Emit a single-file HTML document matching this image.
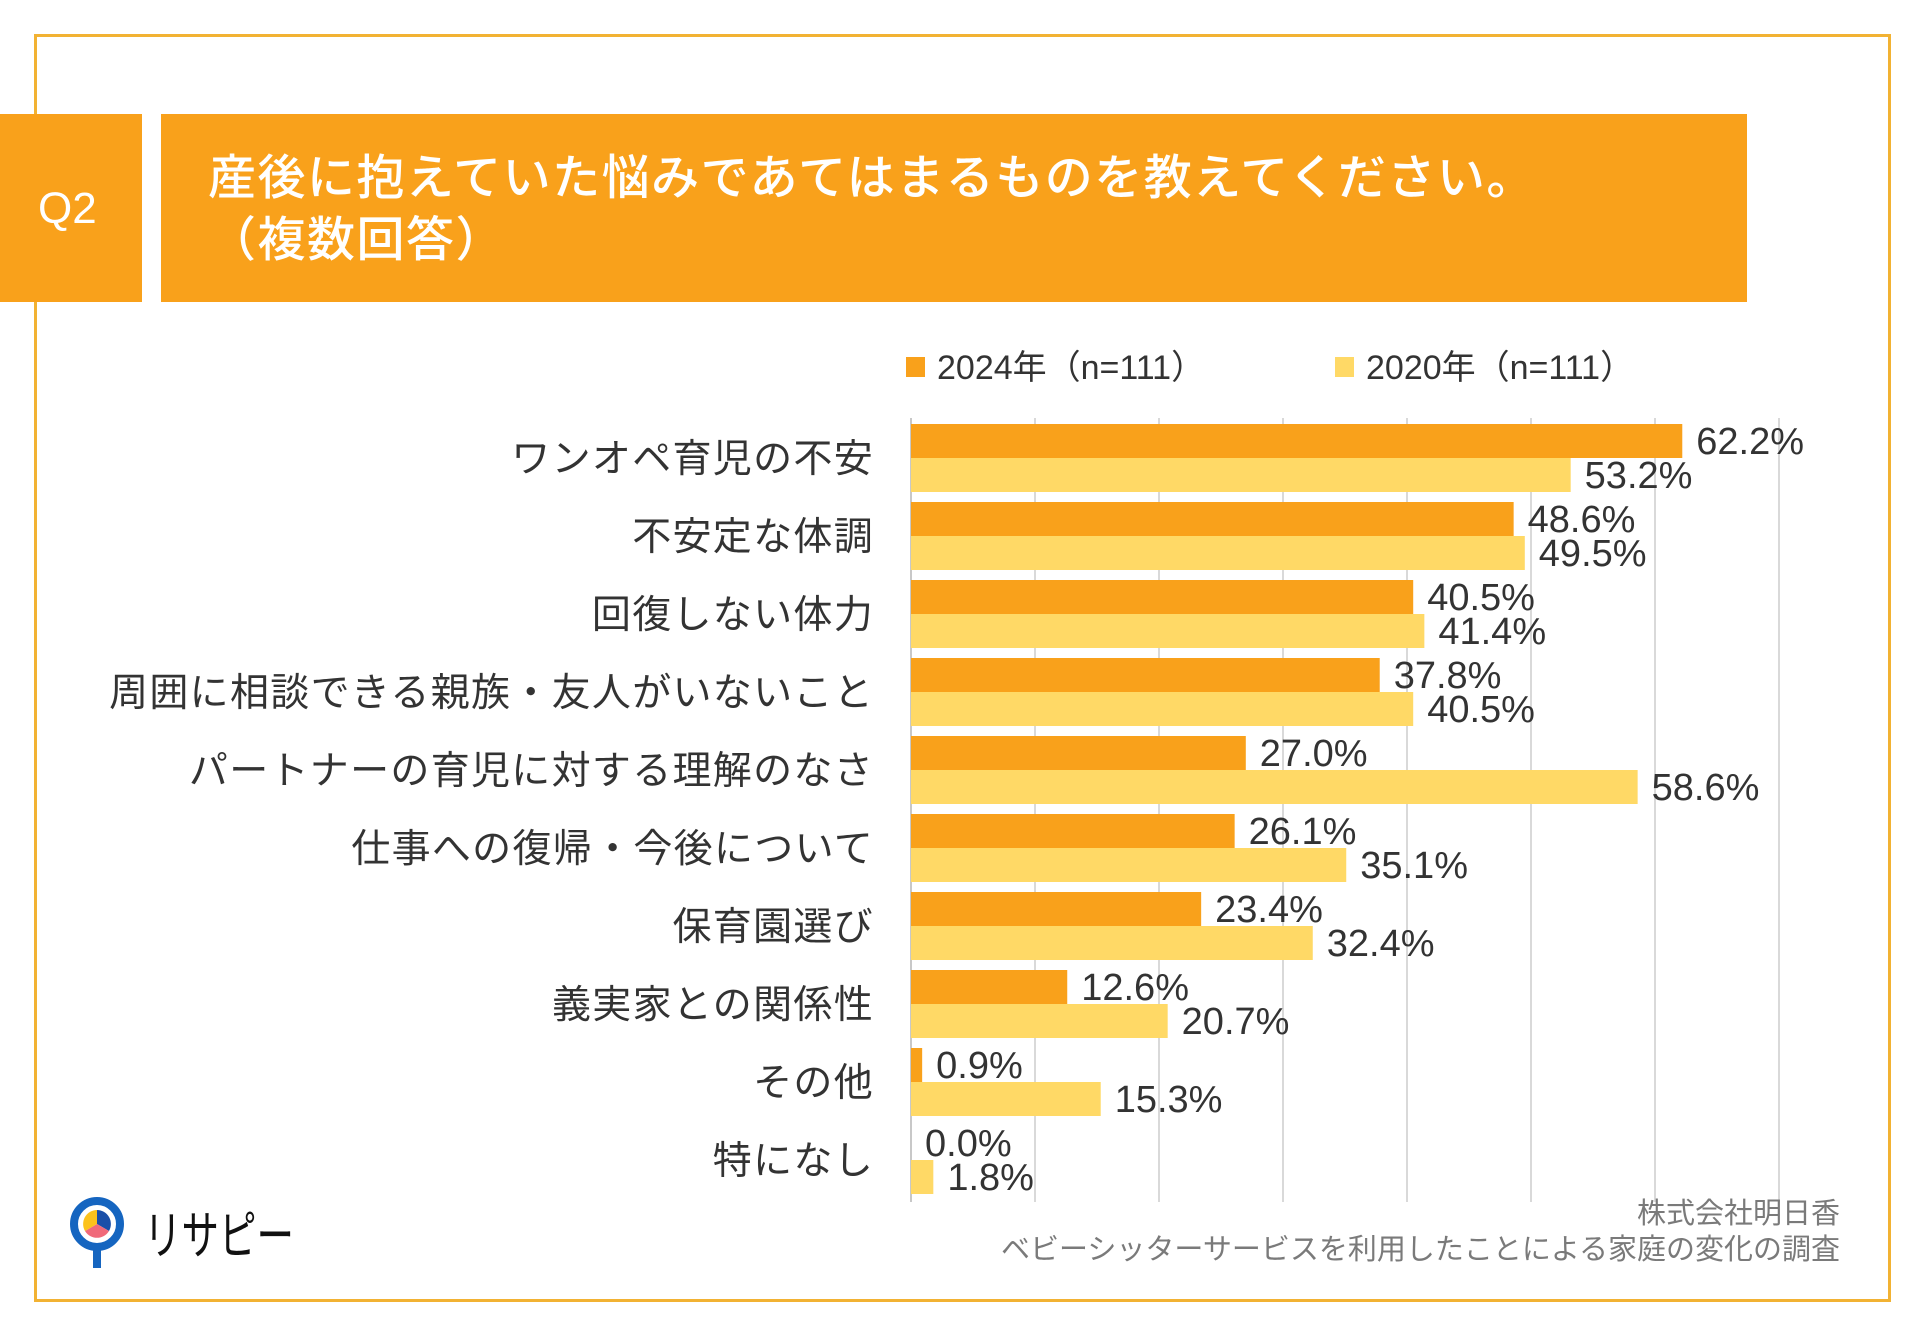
<!DOCTYPE html>
<html><head><meta charset="utf-8">
<style>
body{margin:0;background:#fff;}
#root{position:relative;width:1920px;height:1329px;overflow:hidden;background:#fff;font-family:"Liberation Sans","Noto Sans CJK JP",sans-serif;}
.abs{position:absolute;}
</style></head>
<body>
<div id="root">
  <div class="abs" style="left:34px;top:34px;width:1851px;height:1262px;border:3px solid #f2b233;"></div>
  <div class="abs" style="left:0;top:114px;width:142px;height:188px;background:#f9a11b;"></div>
  <div class="abs" style="left:38px;top:182px;color:#fff;font-size:44px;line-height:54px;">Q2</div>
  <div class="abs" style="left:161px;top:114px;width:1586px;height:188px;background:#f9a11b;"></div>
  <div class="abs" style="left:208px;top:148px;color:#fff;font-size:48px;line-height:62px;letter-spacing:1.5px;font-weight:500;">産後に抱えていた悩みであてはまるものを教えてください。<br>（複数回答）</div>
  <svg class="abs" style="left:0;top:0" width="1920" height="1329" id="chart"></svg>
  <div class="abs" style="right:80px;top:1196px;color:#7a7a7a;font-size:29px;line-height:36px;text-align:right;">株式会社明日香<br>ベビーシッターサービスを利用したことによる家庭の変化の調査</div>
  <svg class="abs" style="left:60px;top:1190px" width="250" height="90">
    <circle cx="37" cy="34" r="23" fill="none" stroke="#1565c0" stroke-width="8"/>
    <rect x="33" y="56" width="8" height="22" fill="#1565c0"/>
    <path d="M37 34 L37 20 A14 14 0 0 1 49 41 Z" fill="#1a4fa8"/>
    <path d="M37 34 L49 41 A14 14 0 0 1 25 41 Z" fill="#f06a7a"/>
    <path d="M37 34 L25 41 A14 14 0 0 1 37 20 Z" fill="#fcc21b"/>
    <text x="84" y="64" font-size="52" fill="#111" font-family="Noto Sans CJK JP, sans-serif" textLength="150" lengthAdjust="spacingAndGlyphs">リサピー</text>
  </svg>
</div>
<script>
const categories=["ワンオペ育児の不安","不安定な体調","回復しない体力","周囲に相談できる親族・友人がいないこと","パートナーの育児に対する理解のなさ","仕事への復帰・今後について","保育園選び","義実家との関係性","その他","特になし"];
const values2024=[62.2,48.6,40.5,37.8,27.0,26.1,23.4,12.6,0.9,0.0];
const values2020=[53.2,49.5,41.4,40.5,58.6,35.1,32.4,20.7,15.3,1.8];
const gridTicks=[10,20,30,40,50,60,70];
const seriesNames=["2024年（n=111）","2020年（n=111）"];
const NS="http://www.w3.org/2000/svg";
const svg=document.getElementById('chart');
const x0=911, pxPer=12.4, top0=424, pitch=78, bh=34;
const xs=v=>x0+v*pxPer;
const yg=i=>top0+i*pitch;
function mk(t,a){const e=document.createElementNS(NS,t);for(const k in a)e.setAttribute(k,a[k]);svg.appendChild(e);return e;}
gridTicks.forEach(t=>{
  const l=mk('line',{x1:xs(t),x2:xs(t),y1:418,y2:1202,stroke:'#d9d9d9','stroke-width':2});
  
  
});
const ax=mk('line',{x1:x0,x2:x0,y1:418,y2:1202,stroke:'#c8c8c8','stroke-width':2});


const cols=['#f9a11b','#ffd966'];
[values2024,values2020].forEach((vals,s)=>{
  vals.forEach((v,i)=>{
    const y=yg(i)+s*bh;
    const r=mk('rect',{x:x0,y:y,width:Math.max(0,v*pxPer),height:bh,fill:cols[s]});
    
    
    const t=mk('text',{x:xs(v)+14,y:y+bh/2+13,'font-size':38,fill:'#333','font-family':'Liberation Sans, sans-serif'});
    t.textContent=v.toFixed(1)+'%';
    
    
  });
});
categories.forEach((c,i)=>{
  const t=mk('text',{x:874,y:yg(i)+bh+14,'text-anchor':'end','font-size':39,fill:'#333','letter-spacing':1.3,'font-family':'Liberation Sans, Noto Sans CJK JP, sans-serif'});
  t.textContent=c;
  
  
});
[[906,937],[1335,1366]].forEach((p,s)=>{
  const r=mk('rect',{x:p[0],y:357,width:19,height:20,fill:cols[s]});
  
  
  const t=mk('text',{x:p[1],y:379,'font-size':34,fill:'#333','font-family':'Liberation Sans, Noto Sans CJK JP, sans-serif'});
  t.textContent=seriesNames[s];
  
  
});
</script>
</body></html>
